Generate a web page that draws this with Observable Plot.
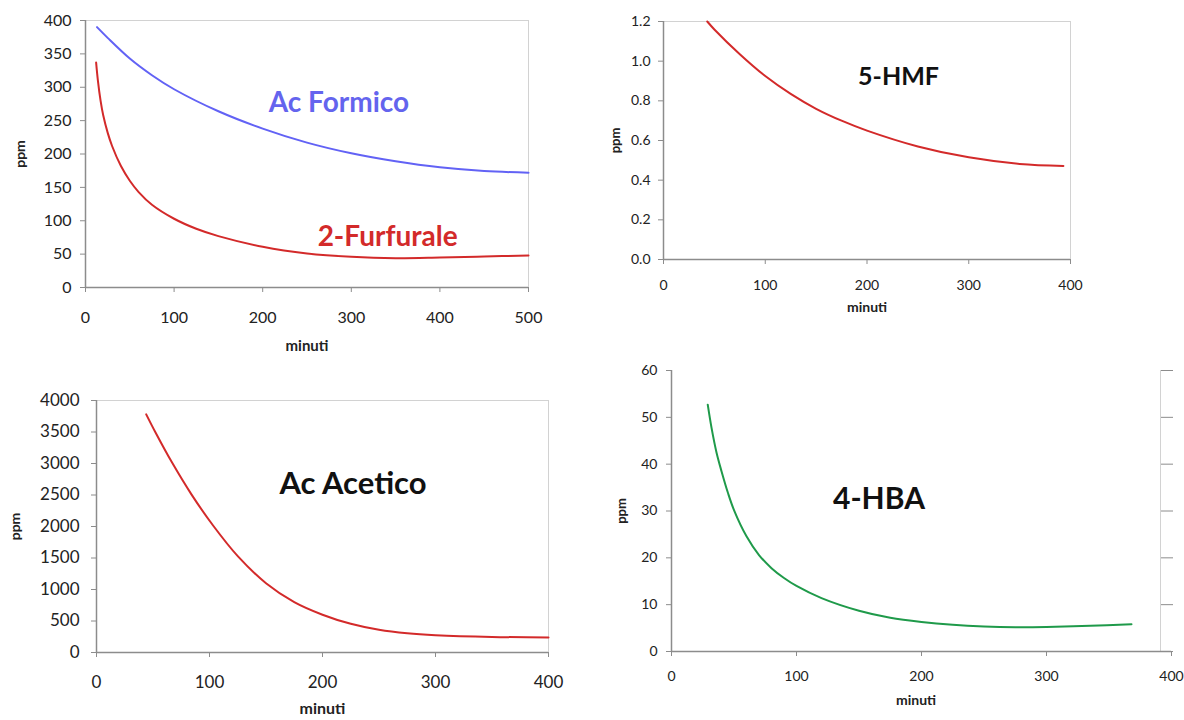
<!DOCTYPE html>
<html><head><meta charset="utf-8">
<script src="https://cdn.jsdelivr.net/npm/d3@7"></script>
<script src="https://cdn.jsdelivr.net/npm/@observablehq/plot@0.6"></script>
<style>
body{margin:0;background:#fff;}
#wrap{position:relative;width:1184px;height:720px;overflow:hidden;background:#fff;}
#wrap > svg{position:absolute;}
</style></head><body><div id="wrap"></div>
<script>
// ---- data ----
const formicoMin = [13,25,50,75,100,150,200,250,300,350,400,450,500];
const formicoPpm = [390,374,343,318,297,264,238,217,201,189,180,174.5,172];
const furfuraleMin = [12,14,17,20,25,30,40,50,60,75,100,125,150,200,250,300,350,400,450,500];
const furfuralePpm = [337,310,280,258,232,212,182,160,143,124,103,88,77,61,51,46,44,45,46.5,48];
const hmfMin = [43,50,75,100,125,150,175,200,250,300,350,393];
const hmfPpm = [1.2,1.16,1.035,0.925,0.835,0.76,0.70,0.65,0.57,0.515,0.482,0.472];
const aceticoMin = [44,52,67,84,103,125,150,175,200,225,250,275,300,350,400];
const aceticoPpm = [3780,3500,3010,2510,2020,1530,1100,800,600,455,360,305,275,248,240];
const hbaMin = [29,32,36,40,45,50,60,70,80,90,100,120,150,175,200,225,250,275,300,335,368];
const hbaPpm = [52.7,47.8,42.5,38.5,34,30.2,24.6,20.6,17.8,15.7,14,11.4,8.7,7.2,6.3,5.7,5.35,5.2,5.25,5.5,5.8];

const ticksX500 = [0,100,200,300,400,500];
const ticksX400 = [0,100,200,300,400];
const ticksY400 = [0,50,100,150,200,250,300,350,400];
const ticksY12 = [0,0.2,0.4,0.6,0.8,1.0,1.2];
const ticksY4000 = [0,500,1000,1500,2000,2500,3000,3500,4000];
const ticksY60 = [0,10,20,30,40,50,60];

const xLabel = "minuti", yLabel = "ppm";

const rows = (xs, ys) => xs.map((m, i) => ({minuti: m, ppm: ys[i]}));

const AXIS = "#8c8c8c", FRAME = "#d2d2d2", TXT = "#222";
const FONT = "Lato, 'Open Sans', sans-serif";
const CURVE = "catmull-rom";
const wrap = document.getElementById("wrap");

function place(svg, left, top) {
  svg.style.left = left + "px";
  svg.style.top = top + "px";
  wrap.appendChild(svg);
}

// Panel 1: Ac Formico / 2-Furfurale
place(Plot.plot({
  width: 560, height: 360,
  marginLeft: 85, marginRight: 32, marginTop: 20, marginBottom: 73,
  style: {fontFamily: FONT, fontSize: "16px", color: TXT, background: "transparent", overflow: "visible"},
  x: {domain: [0, 500]},
  y: {domain: [0, 400]},
  marks: [
    Plot.frame({stroke: FRAME}),
    Plot.ruleY([0], {stroke: AXIS, strokeWidth: 1.5}),
    Plot.ruleX([0], {stroke: AXIS, strokeWidth: 1.5}),
    Plot.axisY(ticksY400, {tickSize: 5, tickPadding: 9, stroke: AXIS, fill: TXT, fontSize: 16, label: null}),
    Plot.axisX(ticksX500, {tickSize: 5, tickPadding: 19, stroke: AXIS, fill: TXT, fontSize: 16, label: null}),
    Plot.line(rows(formicoMin, formicoPpm), {x: "minuti", y: "ppm", stroke: "#6262f5", strokeWidth: 2, curve: CURVE}),
    Plot.line(rows(furfuraleMin, furfuralePpm), {x: "minuti", y: "ppm", stroke: "#d32a2a", strokeWidth: 2, curve: CURVE}),
    Plot.text(["Ac Formico"], {x: 286, y: 277, text: d => d, fill: "#6464ee", fontSize: 28, fontWeight: "bold"}),
    Plot.text(["2-Furfurale"], {x: 341, y: 75, text: d => d, fill: "#d32a2a", fontSize: 28, fontWeight: "bold"}),
    Plot.text([xLabel], {frameAnchor: "bottom", dy: 63, text: d => d, fontSize: 15, fontWeight: "bold", fill: TXT}),
    Plot.text([yLabel], {frameAnchor: "left", dx: -65, rotate: -90, textAnchor: "middle", text: d => d, fontSize: 14, fontWeight: "bold", fill: TXT})
  ]
}), 0, 0);

// Panel 2: 5-HMF
place(Plot.plot({
  width: 520, height: 330,
  marginLeft: 73, marginRight: 40, marginTop: 21, marginBottom: 71,
  style: {fontFamily: FONT, fontSize: "14px", color: TXT, background: "transparent", overflow: "visible"},
  x: {domain: [0, 400]},
  y: {domain: [0, 1.2]},
  marks: [
    Plot.frame({stroke: FRAME}),
    Plot.ruleY([0], {stroke: AXIS, strokeWidth: 1.5}),
    Plot.ruleX([0], {stroke: AXIS, strokeWidth: 1.5}),
    Plot.axisY(ticksY12, {tickSize: 5, tickPadding: 8, tickFormat: d3.format(".1f"), stroke: AXIS, fill: TXT, fontSize: 14, label: null}),
    Plot.axisX(ticksX400, {tickSize: 5, tickPadding: 16, stroke: AXIS, fill: TXT, fontSize: 14, label: null}),
    Plot.line(rows(hmfMin, hmfPpm), {x: "minuti", y: "ppm", stroke: "#d32a2a", strokeWidth: 2, curve: CURVE}),
    Plot.text(["5-HMF"], {x: 231, y: 0.92, text: d => d, fill: "#111", fontSize: 25, fontWeight: "bold"}),
    Plot.text([xLabel], {frameAnchor: "bottom", dy: 52, text: d => d, fontSize: 14, fontWeight: "bold", fill: TXT}),
    Plot.text([yLabel], {frameAnchor: "left", dx: -48, rotate: -90, textAnchor: "middle", text: d => d, fontSize: 13, fontWeight: "bold", fill: TXT})
  ]
}), 590, 0);

// Panel 3: Ac Acetico
place(Plot.plot({
  width: 590, height: 340,
  marginLeft: 96, marginRight: 42, marginTop: 20, marginBottom: 68,
  style: {fontFamily: FONT, fontSize: "17px", color: TXT, background: "transparent", overflow: "visible"},
  x: {domain: [0, 400]},
  y: {domain: [0, 4000]},
  marks: [
    Plot.frame({stroke: FRAME}),
    Plot.ruleY([0], {stroke: AXIS, strokeWidth: 1.5}),
    Plot.ruleX([0], {stroke: AXIS, strokeWidth: 1.5}),
    Plot.axisY(ticksY4000, {tickSize: 5, tickPadding: 12, tickFormat: d3.format("d"), stroke: AXIS, fill: TXT, fontSize: 17, label: null}),
    Plot.axisX(ticksX400, {tickSize: 5, tickPadding: 18, stroke: AXIS, fill: TXT, fontSize: 17, label: null}),
    Plot.line(rows(aceticoMin, aceticoPpm), {x: "minuti", y: "ppm", stroke: "#d32a2a", strokeWidth: 2, curve: CURVE}),
    Plot.text(["Ac Acetico"], {x: 227, y: 2680, text: d => d, fill: "#111", fontSize: 31, fontWeight: "bold"}),
    Plot.text([xLabel], {frameAnchor: "bottom", dy: 61, text: d => d, fontSize: 16, fontWeight: "bold", fill: TXT}),
    Plot.text([yLabel], {frameAnchor: "left", dx: -81, rotate: -90, textAnchor: "middle", text: d => d, fontSize: 14, fontWeight: "bold", fill: TXT})
  ]
}), 0, 380);

// Panel 4: 4-HBA
place(Plot.plot({
  width: 584, height: 360,
  marginLeft: 71, marginRight: 24, marginTop: 10, marginBottom: 69,
  style: {fontFamily: FONT, fontSize: "14px", color: TXT, background: "transparent", overflow: "visible"},
  x: {domain: [0, 400], range: [71, 571]},
  y: {domain: [0, 60]},
  marks: [
    Plot.frame({stroke: FRAME}),
    Plot.ruleY([60], {stroke: "#fff", strokeWidth: 2}),
    Plot.ruleY([0], {x1: 0, x2: 400, stroke: AXIS, strokeWidth: 1.5}),
    Plot.ruleX([0], {stroke: AXIS, strokeWidth: 1.5}),
    Plot.axisY(ticksY60, {tickSize: 5, tickPadding: 9, stroke: AXIS, fill: TXT, fontSize: 14, label: null}),
    Plot.axisY(ticksY60, {anchor: "right", tickSize: 12, tickFormat: () => "", stroke: AXIS, label: null}),
    Plot.axisX(ticksX400, {tickSize: 5, tickPadding: 15, stroke: AXIS, fill: TXT, fontSize: 14, label: null}),
    Plot.line(rows(hbaMin, hbaPpm), {x: "minuti", y: "ppm", stroke: "#1f9a4a", strokeWidth: 2, curve: CURVE}),
    Plot.text(["4-HBA"], {x: 166, y: 32.5, text: d => d, fill: "#111", fontSize: 30, fontWeight: "bold"}),
    Plot.text([xLabel], {frameAnchor: "bottom", dy: 53, text: d => d, fontSize: 14, fontWeight: "bold", fill: TXT}),
    Plot.text([yLabel], {frameAnchor: "left", dx: -50, rotate: -90, textAnchor: "middle", text: d => d, fontSize: 13, fontWeight: "bold", fill: TXT})
  ]
}), 600, 360);
</script>
</body></html>
